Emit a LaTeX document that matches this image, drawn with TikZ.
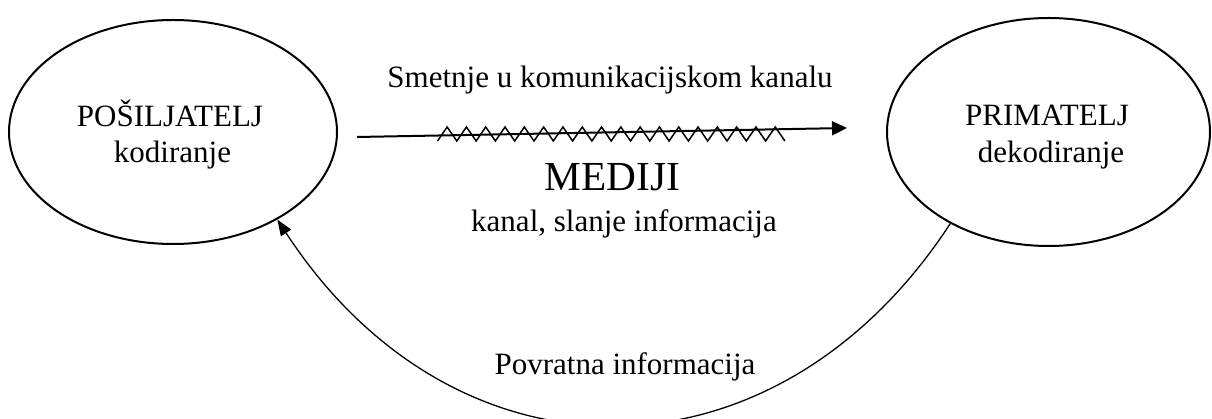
\documentclass[tikz,border=0pt]{standalone}
\usepackage{fontspec}
\setmainfont{Liberation Serif}
\usetikzlibrary{arrows.meta,shapes.geometric}
\begin{document}
\begin{tikzpicture}[x=1pt,y=-1pt,
  party/.style={draw, line width=2pt, ellipse, inner sep=0pt},
  lbl/.style={anchor=base, inner sep=0pt, font=\fontsize{31}{36}\selectfont},
  big/.style={anchor=base, inner sep=0pt, font=\fontsize{41.3}{48}\selectfont},
  mainarrow/.style={line width=2pt, -{Triangle[length=15pt,width=14pt]}},
  backarrow/.style={line width=1.3pt, -{Triangle[length=16pt,width=12pt]}},
  noise/.style={line width=1.5pt, line join=miter}]
\useasboundingbox (0,0) rectangle (1212,419);
% parties
\node[party, minimum width=328pt, minimum height=224pt] (L) at (173,132) {};
\node[party, minimum width=323pt, minimum height=228pt] (R) at (1048.5,132) {};
% labels
\node[lbl] (sndr) at (170,127) {POŠILJATELJ};
\node[lbl] (kod) at (172.5,163) {kodiranje};
\node[lbl] (rcv) at (1047,126) {PRIMATELJ};
\node[lbl] (dekod) at (1051,163) {dekodiranje};
\node[lbl] (smet) at (610,88) {Smetnje u komunikacijskom kanalu};
\node[big] (med) at (612.5,191) {MEDIJI};
\node[lbl] (kan) at (624,232) {kanal, slanje informacija};
\node[lbl] (povr) at (625,374) {Povratna informacija};
% main channel arrow
\coordinate (a1) at (357,137);
\coordinate (a2) at (847,128);
\draw[mainarrow] (a1) -- (a2);
% noise zigzag
\draw[noise] (437.5,141) \foreach \i in {1,...,18} { -- ++(9.65,-14) -- ++(9.65,14) };
% feedback
\draw[backarrow] (R.223) .. controls (775,492) and (455,492) .. (L.320);
\end{tikzpicture}
\end{document}
